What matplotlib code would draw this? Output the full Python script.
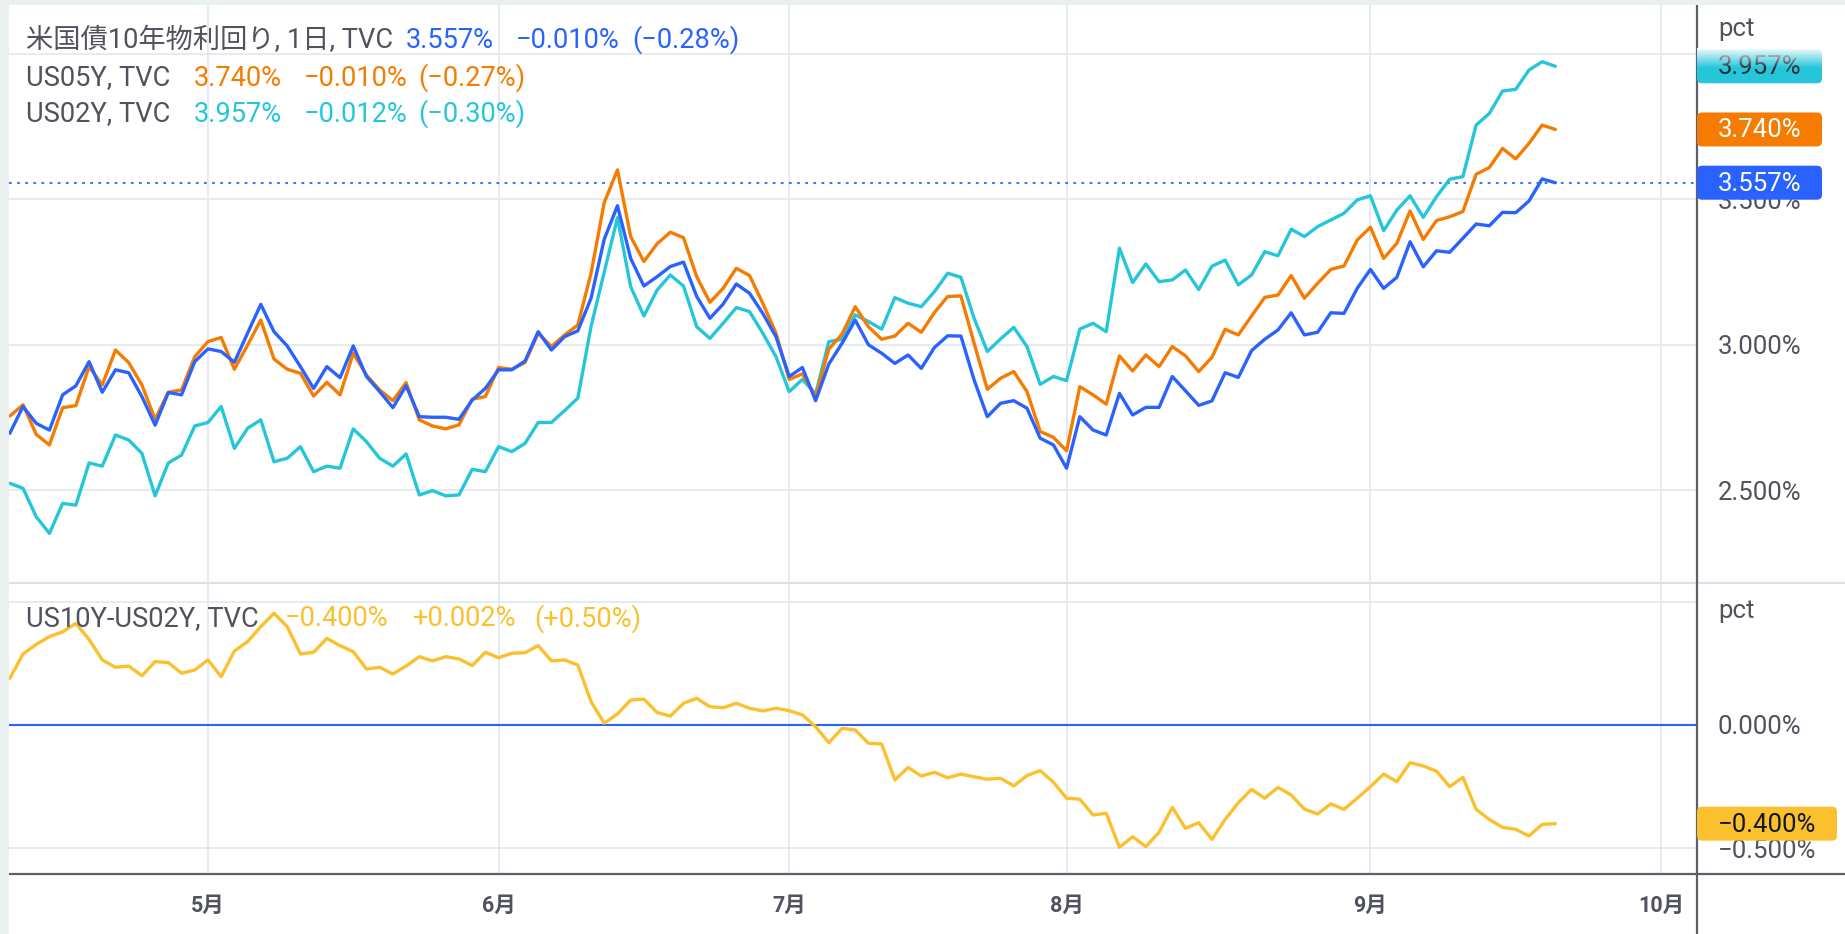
import numpy as np
import matplotlib
matplotlib.use("Agg")
import matplotlib.pyplot as plt
import matplotlib.transforms as mtrans
from matplotlib.patches import FancyBboxPatch, Rectangle

plt.rcParams['font.family'] = ['Roboto', 'Noto Sans CJK JP', 'DejaVu Sans']

# ---------------- data (daily bars, index 0 = first visible bar) ----------------
us10y = [2.696, 2.788, 2.730, 2.707, 2.828, 2.859, 2.942, 2.837, 2.914, 2.904,
         2.822, 2.724, 2.836, 2.828, 2.942, 2.986, 2.977, 2.940, 3.040, 3.139,
         3.045, 2.996, 2.925, 2.850, 2.925, 2.887, 2.996, 2.891, 2.839, 2.784,
         2.859, 2.753, 2.751, 2.751, 2.744, 2.810, 2.850, 2.914, 2.914, 2.944,
         3.045, 2.982, 3.028, 3.048, 3.160, 3.363, 3.478, 3.297, 3.202, 3.234,
         3.269, 3.284, 3.166, 3.091, 3.140, 3.209, 3.177, 3.108, 3.028, 2.891,
         2.922, 2.808, 2.934, 3.005, 3.085, 3.000, 2.971, 2.936, 2.965, 2.919,
         2.991, 3.031, 3.030, 2.879, 2.753, 2.799, 2.808, 2.782, 2.679, 2.656,
         2.576, 2.753, 2.707, 2.690, 2.833, 2.759, 2.785, 2.785, 2.891, 2.842,
         2.792, 2.807, 2.904, 2.888, 2.980, 3.019, 3.051, 3.110, 3.034, 3.043,
         3.110, 3.108, 3.194, 3.259, 3.194, 3.232, 3.354, 3.268, 3.323, 3.318,
         3.366, 3.415, 3.409, 3.455, 3.454, 3.494, 3.570, 3.557]

us05y = [2.755, 2.794, 2.692, 2.656, 2.784, 2.791, 2.925, 2.862, 2.982, 2.939,
         2.862, 2.744, 2.837, 2.845, 2.959, 3.011, 3.025, 2.916, 2.999, 3.085,
         2.951, 2.916, 2.902, 2.824, 2.871, 2.828, 2.971, 2.896, 2.845, 2.808,
         2.870, 2.742, 2.721, 2.711, 2.725, 2.813, 2.822, 2.922, 2.916, 2.939,
         3.040, 2.994, 3.034, 3.068, 3.246, 3.489, 3.601, 3.372, 3.286, 3.347,
         3.387, 3.368, 3.234, 3.146, 3.194, 3.263, 3.238, 3.143, 3.040, 2.881,
         2.900, 2.822, 2.985, 3.037, 3.131, 3.062, 3.019, 3.030, 3.074, 3.043,
         3.111, 3.166, 3.168, 3.005, 2.847, 2.885, 2.908, 2.839, 2.702, 2.682,
         2.636, 2.856, 2.828, 2.796, 2.962, 2.910, 2.965, 2.925, 2.994, 2.962,
         2.908, 2.957, 3.053, 3.034, 3.099, 3.163, 3.171, 3.238, 3.160, 3.211,
         3.259, 3.271, 3.360, 3.404, 3.297, 3.349, 3.460, 3.362, 3.427, 3.440,
         3.458, 3.586, 3.609, 3.675, 3.639, 3.692, 3.755, 3.740]

us02y = [2.524, 2.507, 2.409, 2.352, 2.455, 2.449, 2.594, 2.583, 2.690, 2.673,
         2.627, 2.481, 2.594, 2.621, 2.721, 2.733, 2.788, 2.644, 2.713, 2.742,
         2.598, 2.610, 2.650, 2.564, 2.583, 2.576, 2.711, 2.667, 2.610, 2.583,
         2.625, 2.484, 2.499, 2.481, 2.484, 2.572, 2.564, 2.650, 2.633, 2.661,
         2.733, 2.733, 2.774, 2.817, 3.063, 3.250, 3.437, 3.200, 3.099, 3.188,
         3.240, 3.202, 3.062, 3.022, 3.074, 3.128, 3.114, 3.040, 2.959, 2.839,
         2.881, 2.831, 3.011, 3.019, 3.103, 3.080, 3.054, 3.162, 3.143, 3.131,
         3.183, 3.246, 3.232, 3.091, 2.977, 3.020, 3.060, 2.994, 2.864, 2.891,
         2.877, 3.054, 3.074, 3.045, 3.332, 3.214, 3.278, 3.217, 3.223, 3.257,
         3.190, 3.270, 3.291, 3.206, 3.240, 3.320, 3.306, 3.397, 3.372, 3.406,
         3.429, 3.452, 3.498, 3.512, 3.392, 3.463, 3.512, 3.438, 3.509, 3.569,
         3.578, 3.755, 3.795, 3.872, 3.878, 3.944, 3.973, 3.957]

spread = [0.189, 0.288, 0.327, 0.358, 0.378, 0.412, 0.347, 0.264, 0.234, 0.239,
          0.200, 0.257, 0.253, 0.210, 0.223, 0.264, 0.196, 0.300, 0.338, 0.399,
          0.453, 0.399, 0.288, 0.295, 0.351, 0.322, 0.297, 0.227, 0.234, 0.207,
          0.239, 0.277, 0.260, 0.277, 0.268, 0.241, 0.295, 0.273, 0.291, 0.293,
          0.322, 0.260, 0.264, 0.243, 0.095, 0.007, 0.045, 0.101, 0.105, 0.051,
          0.036, 0.088, 0.108, 0.074, 0.070, 0.088, 0.068, 0.057, 0.068, 0.058,
          0.041, -0.007, -0.072, -0.014, -0.020, -0.074, -0.077, -0.223, -0.172, -0.207,
          -0.192, -0.214, -0.199, -0.210, -0.220, -0.216, -0.247, -0.205, -0.185, -0.232,
          -0.297, -0.301, -0.365, -0.358, -0.496, -0.453, -0.493, -0.435, -0.334, -0.419,
          -0.396, -0.464, -0.383, -0.315, -0.261, -0.297, -0.253, -0.284, -0.341, -0.361,
          -0.320, -0.342, -0.297, -0.250, -0.199, -0.230, -0.153, -0.166, -0.187, -0.250,
          -0.212, -0.342, -0.383, -0.415, -0.423, -0.450, -0.403, -0.400]

month_idx = [15, 37, 59, 80, 103, 125]
month_labels = ['5月', '6月', '7月', '8月', '9月', '10月']

upper_ticks = [2.5, 3.0, 3.5, 4.0]
upper_tick_labels = ['2.500%', '3.000%', '3.500%', '']
lower_ticks = [-0.5, 0.0, 0.5]
lower_tick_labels = ['−0.500%', '0.000%', '']

legend_rows = [
    (40, [("米国債10年物利回り, 1日, TVC", 25.5, 'txt'), ("3.557%", 406, 'blue'),
          ("−0.010%", 516, 'blue'), ("(−0.28%)", 632, 'blue')]),
    (78, [("US05Y, TVC", 25.5, 'txt'), ("3.740%", 194, 'orange'),
          ("−0.010%", 304, 'orange'), ("(−0.27%)", 418, 'orange')]),
    (114, [("US02Y, TVC", 25.5, 'txt'), ("3.957%", 194, 'cyan'),
           ("−0.012%", 304, 'cyan'), ("(−0.30%)", 418, 'cyan')]),
    (619, [("US10Y-US02Y, TVC", 25.7, 'txt'), ("−0.400%", 285, 'yellow'),
           ("+0.002%", 413, 'yellow'), ("(+0.50%)", 534, 'yellow')]),
]

# ---------------- style ----------------
C = {'blue': '#2962FF', 'orange': '#F57C00', 'cyan': '#26C6DA',
     'yellow': '#FBC02D', 'txt': '#50535E'}
GRID = '#E3E9F0'
AXLINE = '#5D606B'
BORDER = '#EAEFF0'
LW = 2.4
FS_LEG = 19.6
FS_AX = 18.5

W, H = 1845, 934
PLOT_L, AXIS_X = 8.7, 1697
TOP, SEP, BOT = 5, 583, 874
X0, DX = 9.8, 13.21
Y35, PPU = 199.3, 291.0
Y0, PPU2 = 725.0, 246.6

fig = plt.figure(figsize=(W / 100, H / 100), dpi=100)
fig.patch.set_facecolor('white')
ax1 = fig.add_axes([PLOT_L / W, 1 - SEP / H, (AXIS_X - PLOT_L) / W, (SEP - TOP) / H])
ax2 = fig.add_axes([PLOT_L / W, 1 - BOT / H, (AXIS_X - PLOT_L) / W, (BOT - SEP) / H])

x = np.arange(len(us10y))
xl = ((PLOT_L - X0) / DX, (AXIS_X - X0) / DX)
for ax in (ax1, ax2):
    ax.set_facecolor('white')
    ax.set_xlim(*xl)
    for s in ax.spines.values():
        s.set_visible(False)
    ax.set_xticks(month_idx)
    ax.grid(True, color=GRID, lw=1.3)
    ax.set_axisbelow(True)
    ax.yaxis.tick_right()
    ax.tick_params(length=0)
    ax.tick_params(axis='x', labelbottom=False)
    ax.tick_params(axis='y', labelsize=FS_AX, labelcolor=C['txt'], pad=15)

ax1.set_ylim(3.5 - (SEP - Y35) / PPU, 3.5 + (Y35 - TOP) / PPU)
ax2.set_ylim(-(BOT - Y0) / PPU2, (Y0 - SEP) / PPU2)
ax1.set_yticks(upper_ticks)
ax1.set_yticklabels(upper_tick_labels)
ax2.set_yticks(lower_ticks)
ax2.set_yticklabels(lower_tick_labels)

kw = dict(lw=LW, solid_joinstyle='round', solid_capstyle='round')
ax1.plot(x, us02y, color=C['cyan'], zorder=2, **kw)
ax1.plot(x, us05y, color=C['orange'], zorder=3, **kw)
ax1.plot(x, us10y, color=C['blue'], zorder=4, **kw)
ax1.axhline(us10y[-1], color=C['blue'], lw=1.3, ls=(0, (1.5, 3)), zorder=1.5)

ax2.axhline(0.0, color=C['blue'], lw=1.5, zorder=1.5)
ax2.plot(x, spread, color=C['yellow'], zorder=3, **kw)

# ---------------- overlay in pixel coordinates ----------------
ov = fig.add_axes([0, 0, 1, 1], zorder=5)
ov.patch.set_alpha(0)
ov.axis('off')


def reset_ov():
    ov.set_xlim(0, W)
    ov.set_ylim(H, 0)


reset_ov()

ov.add_patch(Rectangle((0, 0), PLOT_L, H, color=BORDER, lw=0))
ov.add_patch(Rectangle((0, 0), W, TOP, color=BORDER, lw=0))
ov.plot([PLOT_L, W], [SEP, SEP], color='#DCE1E7', lw=1.5, solid_capstyle='butt')
ov.plot([PLOT_L, W], [BOT, BOT], color=AXLINE, lw=1.6, solid_capstyle='butt')
ov.plot([AXIS_X, AXIS_X], [TOP, H], color=AXLINE, lw=1.6, solid_capstyle='butt')

# month labels: x from the chart's index scale, y in pixels below the axis
xlab_tr = mtrans.blended_transform_factory(ax2.transData, ov.transData)
for idx, lab in zip(month_idx, month_labels):
    ov.text(idx, 906, lab, transform=xlab_tr, fontsize=15.5, fontweight='bold',
            color=C['txt'], ha='center', va='center')

for yy, segs in legend_rows:
    for s, xx, ck in segs:
        ov.text(xx, yy, s, fontsize=FS_LEG, color=C[ck], ha='left', va='center', zorder=10)

ov.text(1718, 29, 'pct', fontsize=FS_AX, color=C['txt'], ha='left', va='center')
ov.text(1718, 611, 'pct', fontsize=FS_AX, color=C['txt'], ha='left', va='center')


def to_px(ax, v):
    return H - ax.transData.transform((0, v))[1]


boxes = [
    (ax1, us02y[-1], C['cyan'], '#2A2E39', 125, True),
    (ax1, us05y[-1], C['orange'], 'white', 125, False),
    (ax1, us10y[-1], C['blue'], 'white', 125, False),
    (ax2, spread[-1], C['yellow'], '#131722', 140, False),
]
for ax, v, fc, tc, bw, fade in boxes:
    yc = to_px(ax, v)
    ov.add_patch(FancyBboxPatch((AXIS_X, yc - 17), bw, 34,
                                boxstyle='round,pad=0,rounding_size=5',
                                fc=fc, ec='none', zorder=6))
    lab = ('−' if v < 0 else '') + f"{abs(v):.3f}%"
    ov.text(1718, yc + 1, lab, fontsize=FS_AX, color=tc, ha='left', va='center', zorder=7)
    if fade:
        grad = np.ones((64, 1, 4))
        grad[:, 0, 3] = np.linspace(0.95, 0.0, 64)
        ov.imshow(grad, extent=[AXIS_X, AXIS_X + bw, yc + 2, yc - 18],
                  origin='upper', aspect='auto', zorder=8)
        reset_ov()

fig.savefig('out.png', dpi=100)
